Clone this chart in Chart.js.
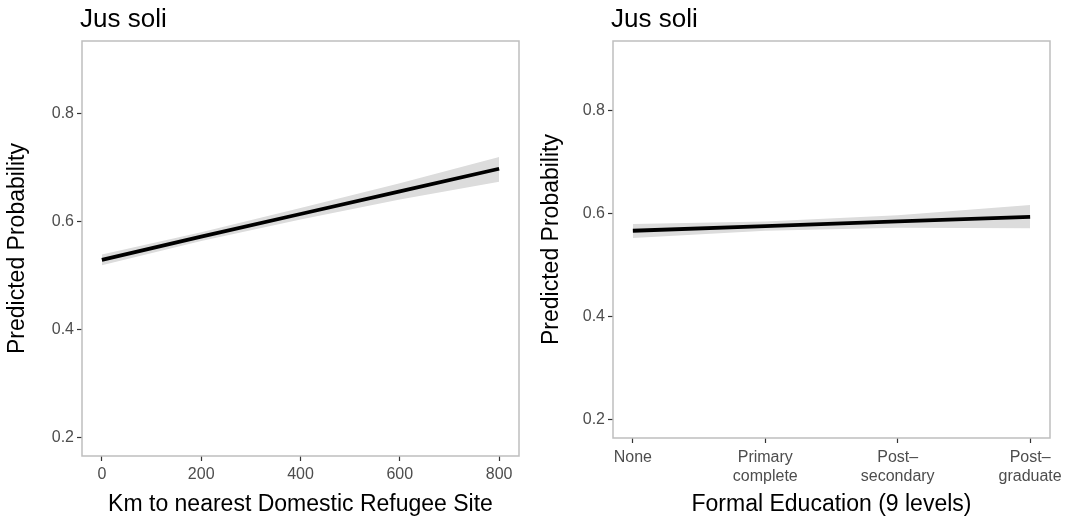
<!DOCTYPE html>
<html>
<head>
<meta charset="utf-8">
<script src="https://cdn.jsdelivr.net/npm/chart.js@4.4.1/dist/chart.umd.min.js"></script>
<style>
html, body { margin: 0; padding: 0; background: #fff; }
.panel { position: absolute; top: 0; width: 534px; height: 519px; }
</style>
</head>
<body>
<div class="panel" style="left:0"><canvas id="kmChart" width="534" height="519"></canvas></div>
<div class="panel" style="left:534px"><canvas id="eduChart" width="534" height="519"></canvas></div>
<script>
// 左: 距離
const kmX = [0, 200, 400, 600, 800];
const kmFit = [0.529, 0.572, 0.614, 0.656, 0.698];
const kmLow = [0.519, 0.564, 0.604, 0.641, 0.674];
const kmHigh = [0.539, 0.580, 0.625, 0.671, 0.720];
const kmTicks = [0, 200, 400, 600, 800];

// 右: 学歴
const eduX = [0, 1, 2, 3];
const eduLabels = ['None', ['Primary', 'complete'], ['Post\u2013', 'secondary'], ['Post\u2013', 'graduate']];
const eduFit = [0.567, 0.576, 0.585, 0.594];
const eduLow = [0.553, 0.567, 0.573, 0.572];
const eduHigh = [0.580, 0.585, 0.597, 0.617];

const yTicks = [0.2, 0.4, 0.6, 0.8];
const FONT = "'Liberation Sans', Arial, sans-serif";

const pts = (xs, ys) => xs.map((x, i) => ({ x: x, y: ys[i] }));

// パネル枠とタイトル
const panelDeco = {
    id: 'panelDeco',
    afterDatasetsDraw(chart) {
        const a = chart.chartArea, ctx = chart.ctx;
        ctx.save();
        ctx.strokeStyle = '#bebebe';
        ctx.lineWidth = 1.5;
        ctx.strokeRect(a.left, a.top, a.right - a.left, a.bottom - a.top);
        ctx.fillStyle = '#000';
        ctx.font = '26px ' + FONT;
        ctx.textBaseline = 'alphabetic';
        ctx.fillText('Jus soli', a.left - 2, 27);
        ctx.restore();
    }
};

function makeChart(id, xs, fit, low, high, xTicks, xMin, xMax, xTitle, labelFn, yWidth, xHeight, padRight, tickPad) {
    return new Chart(document.getElementById(id).getContext('2d'), {
        type: 'line',
        data: {
            datasets: [
                { data: pts(xs, fit), borderColor: '#000', borderWidth: 3.8, pointRadius: 0, fill: false },
                { data: pts(xs, low), borderWidth: 0, pointRadius: 0, fill: false },
                { data: pts(xs, high), borderWidth: 0, pointRadius: 0, fill: '-1', backgroundColor: '#dcdcdc' }
            ]
        },
        options: {
            responsive: false,
            animation: false,
            layout: { padding: { top: 41, right: padRight, left: 0, bottom: 0 } },
            plugins: { legend: { display: false }, tooltip: { enabled: false } },
            scales: {
                x: {
                    type: 'linear',
                    min: xMin,
                    max: xMax,
                    afterBuildTicks: s => { s.ticks = xTicks.map(v => ({ value: v })); },
                    afterFit: s => { s.height = xHeight; },
                    ticks: { color: '#4d4d4d', font: { family: FONT, size: 16, lineHeight: 1.2 }, padding: tickPad, maxRotation: 0, callback: labelFn },
                    grid: { drawOnChartArea: false, drawTicks: true, tickLength: 5, tickColor: '#333', tickWidth: 1.2 },
                    border: { display: false },
                    title: { display: true, text: xTitle, color: '#000', font: { family: FONT, size: 23 }, padding: { top: 2, bottom: 1 } }
                },
                y: {
                    min: 0.165,
                    max: 0.935,
                    afterBuildTicks: s => { s.ticks = yTicks.map(v => ({ value: v })); },
                    afterFit: s => { s.width = yWidth; },
                    ticks: { color: '#4d4d4d', font: { family: FONT, size: 16 }, padding: 3, callback: v => v.toFixed(1) },
                    grid: { drawOnChartArea: false, drawTicks: true, tickLength: 5, tickColor: '#333', tickWidth: 1.2 },
                    border: { display: false },
                    title: { display: true, text: 'Predicted Probability', color: '#000', font: { family: FONT, size: 23 }, padding: { top: 4, bottom: 0 } }
                }
            }
        },
        plugins: [panelDeco]
    });
}

makeChart('kmChart', kmX, kmFit, kmLow, kmHigh, kmTicks, -40, 840,
    'Km to nearest Domestic Refugee Site', v => v, 82, 63, 15, 4);

makeChart('eduChart', eduX, eduFit, eduLow, eduHigh, eduX, -0.15, 3.15,
    'Formal Education (9 levels)', (v, i) => eduLabels[i], 79, 81, 18, 5);
</script>
</body>
</html>
